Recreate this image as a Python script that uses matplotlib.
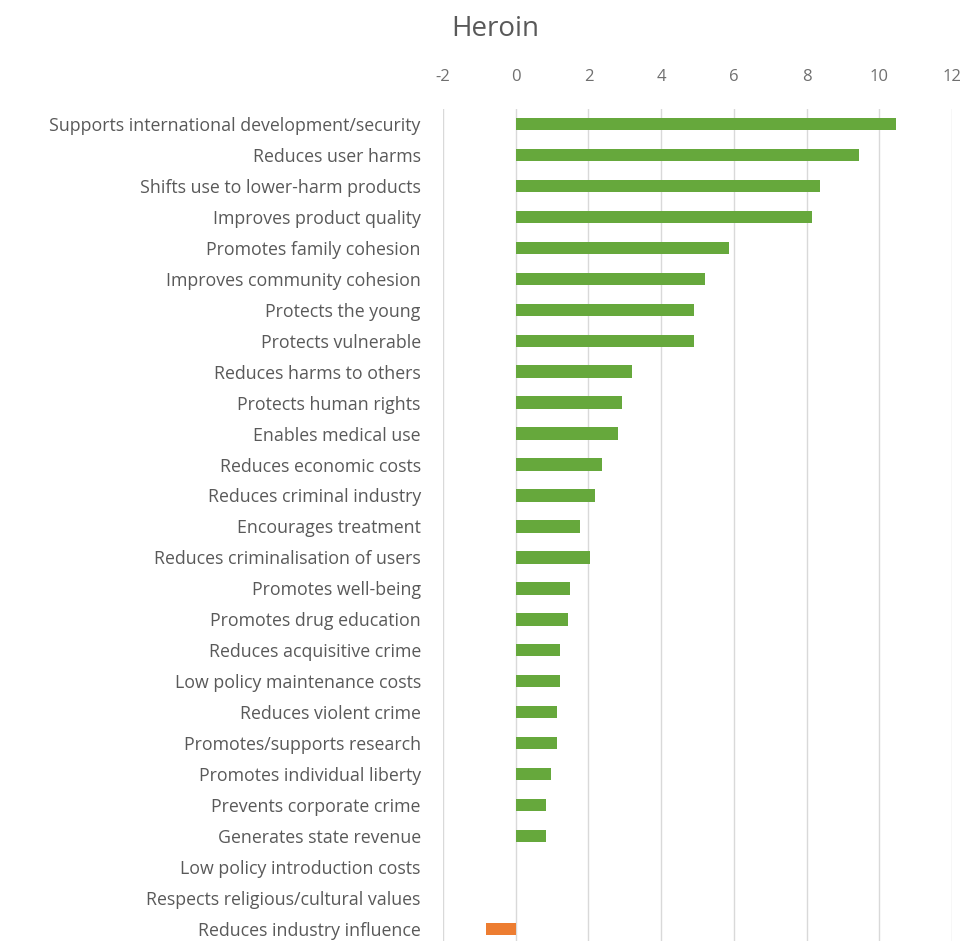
import matplotlib.pyplot as plt

plt.rcParams['axes.unicode_minus'] = False

# Heroin: benefit scores per criterion (top to bottom as shown)
criteria = [
    'Supports international development/security',
    'Reduces user harms',
    'Shifts use to lower-harm products',
    'Improves product quality',
    'Promotes family cohesion',
    'Improves community cohesion',
    'Protects the young',
    'Protects vulnerable',
    'Reduces harms to others',
    'Protects human rights',
    'Enables medical use',
    'Reduces economic costs',
    'Reduces criminal industry',
    'Encourages treatment',
    'Reduces criminalisation of users',
    'Promotes well-being',
    'Promotes drug education',
    'Reduces acquisitive crime',
    'Low policy maintenance costs',
    'Reduces violent crime',
    'Promotes/supports research',
    'Promotes individual liberty',
    'Prevents corporate crime',
    'Generates state revenue',
    'Low policy introduction costs',
    'Respects religious/cultural values',
    'Reduces industry influence',
]
scores = [10.45, 9.44, 8.38, 8.15, 5.86, 5.22, 4.89, 4.89, 3.19, 2.91, 2.8,
          2.37, 2.19, 1.78, 2.03, 1.5, 1.44, 1.21, 1.21, 1.14, 1.14, 0.96,
          0.82, 0.82, 0.0, 0.0, -0.82]
xticks = [-2, 0, 2, 4, 6, 8, 10, 12]

green = '#66a83c'
orange = '#ed7d31'
grey = '#595959'
colors = [green if s >= 0 else orange for s in scores]

fig = plt.figure(figsize=(9.64, 9.41), dpi=100)
ax = fig.add_axes([443 / 964, 0.0, (952 - 443) / 964, 1 - 108.5 / 941])

pos = list(range(len(criteria)))
ax.barh(pos, scores, height=0.4, color=colors, zorder=3)

ax.set_xlim(-2, 12)
ax.set_ylim(26.39, -0.5)
ax.set_xticks(xticks)
ax.set_yticks(pos)
ax.set_yticklabels(criteria, fontsize=12.8, color=grey, family='Open Sans')
ax.xaxis.tick_top()
ax.tick_params(axis='x', length=0, pad=17, labelsize=12, labelcolor='#6f6f6f')
ax.tick_params(axis='y', length=0, pad=16)
for lbl in ax.get_xticklabels():
    lbl.set_family('Open Sans')
ax.grid(axis='x', color='#d9d9d9', linewidth=1, zorder=0)
for sp in ax.spines.values():
    sp.set_visible(False)

fig.text(495 / 964, 1 - 29 / 941, 'Heroin', ha='center', va='center',
         fontsize=20, color=grey, family='Open Sans')

fig.savefig('out.png', dpi=100)
